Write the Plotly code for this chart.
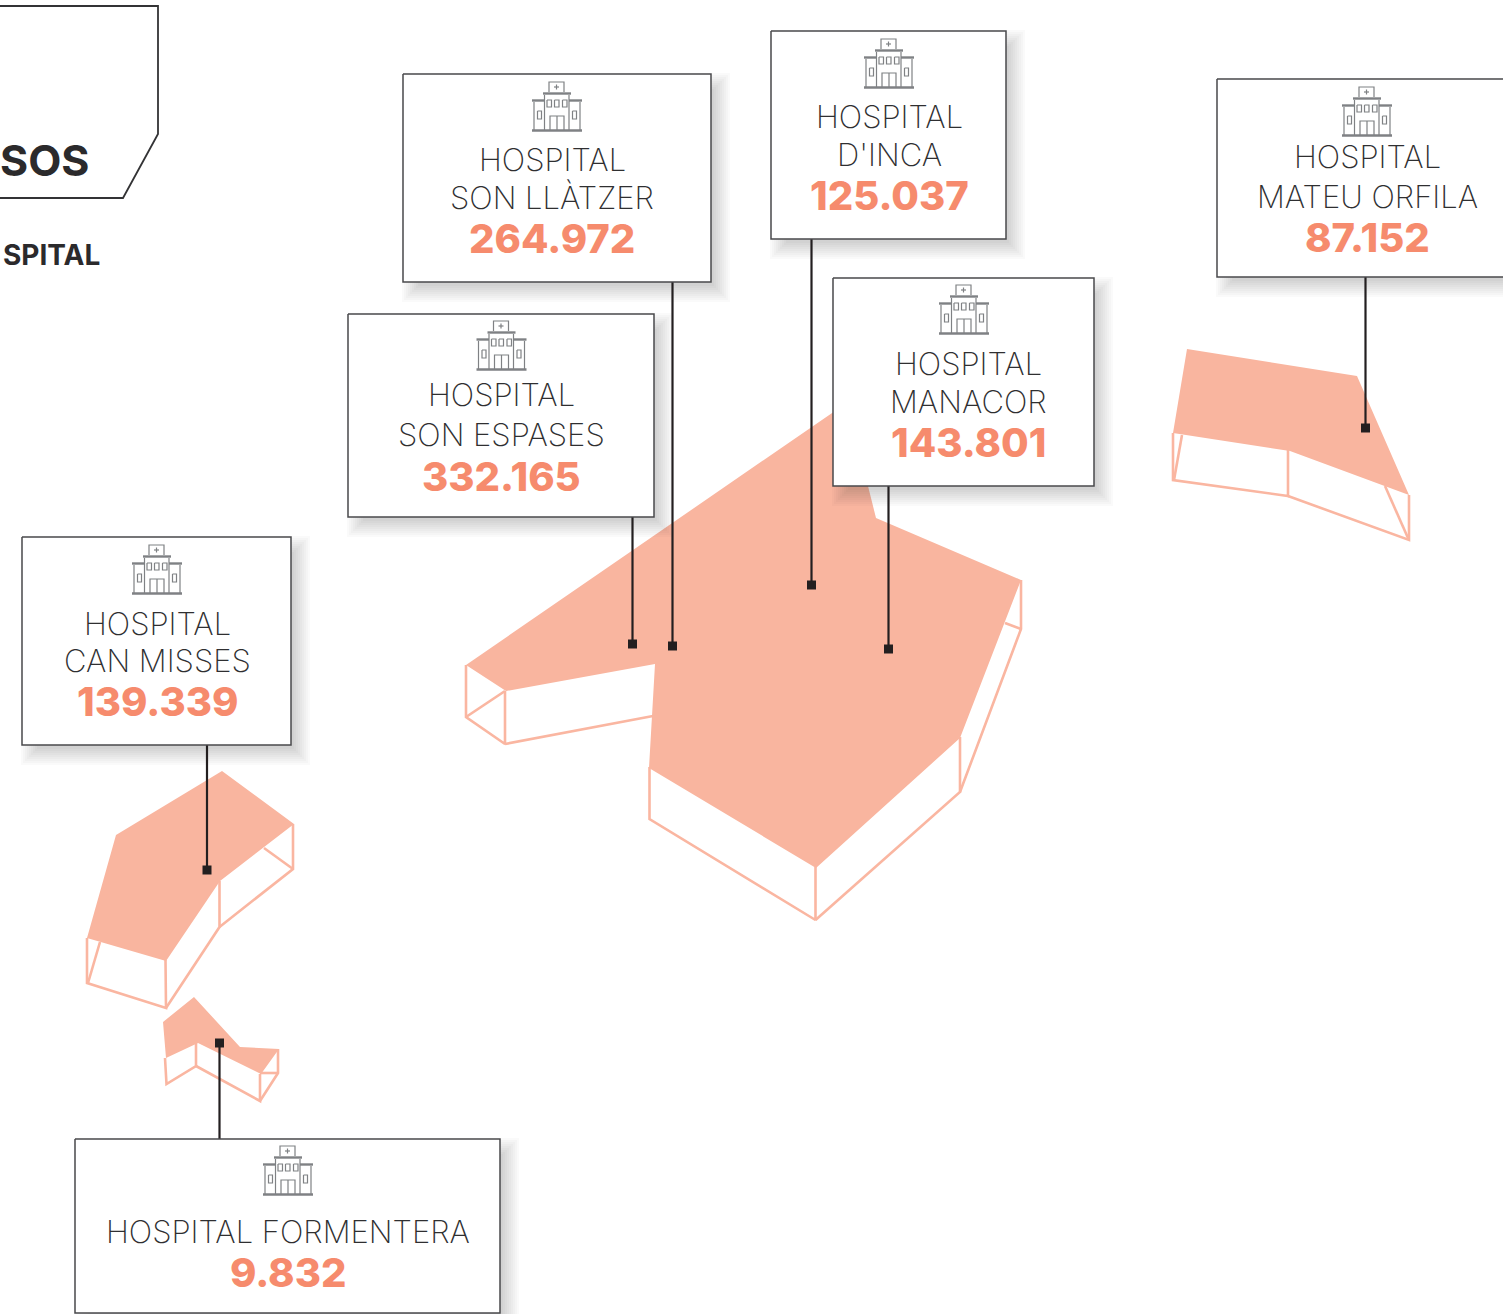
import plotly.graph_objects as go

W, H = 1503, 1314
CORAL_FILL = "#f9b59f"
CORAL_LINE = "#fab6a1"
CORAL_TEXT = "#f68b6d"
DARK = "#231f20"
TEXT = "#2f2f31"
ICON = "#7f8184"

# ---- data ----
line1 = ["HOSPITAL", "HOSPITAL", "HOSPITAL", "HOSPITAL", "HOSPITAL", "HOSPITAL", "HOSPITAL FORMENTERA"]
line2 = ["SON LLÀTZER", "D'INCA", "MATEU ORFILA", "MANACOR", "SON ESPASES", "CAN MISSES", ""]
values = [264972, 125037, 87152, 143801, 332165, 139339, 9832]

box_x0 = [403, 771, 1217, 833, 348, 22, 75]
box_x1 = [711, 1006, 1512, 1094, 654, 291, 500]
box_y0 = [74, 31, 79, 278, 314, 537, 1139]
box_y1 = [282, 239, 277, 486, 517, 745, 1313]
text_cx = [552, 889, 1367, 968, 501, 157, 288]
line1_y = [159, 116, 156, 363, 394, 623, 1231]
line2_y = [197, 154, 196, 401, 434, 660, None]
value_y = [238, 195, 237, 442, 476, 701, 1272]
icon_x = [532, 864, 1342, 939, 476.5, 132, 263]
icon_y = [82, 39, 87, 285, 321, 545, 1146]
conn_x = [672.5, 811.5, 1365.5, 888.5, 632.5, 207, 219.5]
conn_y0 = [282, 239, 277, 486, 517, 745, 1139]
conn_y1 = [646, 585, 428, 649, 644, 870, 1043]

# island top faces
mallorca_x = [466, 835, 868, 876, 1021, 960, 816, 649, 655, 506]
mallorca_y = [665, 411, 486, 518, 580, 738, 868, 768, 664, 691]
menorca_x = [1187, 1357, 1409, 1290, 1173]
menorca_y = [349, 376, 495, 451, 433]
ibiza_x = [222, 294, 220, 166, 87, 116]
ibiza_y = [771, 824, 881, 961, 938, 835]
formentera_x = [194, 240, 279, 261, 198, 166, 163]
formentera_y = [997, 1047, 1049, 1074, 1043, 1058, 1022]

# island side walls (open outlines)
walls = [
    ([466, 466, 505, 505, None, 466, 505, None, 505, 653], [665, 717, 744, 691, None, 717, 691, None, 744, 716]),
    ([649.5, 649.5, 815.5, 815.5, None, 815.5, 960, 960, None, 960, 1021, 1021, None, 1005, 1021],
     [767, 819, 920, 867, None, 920, 792, 737, None, 792, 629, 580, None, 623, 629]),
    ([1173, 1173, 1288, 1288, None, 1288, 1409, 1409, None, 1182, 1174, None, 1385, 1408],
     [433, 480, 496, 450, None, 496, 540, 495, None, 435, 480, None, 486, 538]),
    ([87, 87, 166, 165.5, None, 166, 219.5, 219.5, None, 219.5, 293, 293, None, 264, 293, None, 100, 88],
     [938, 983, 1008, 960, None, 1008, 927, 881, None, 927, 869, 824, None, 848, 869, None, 942, 983]),
    ([165, 166.5, 196, 196, None, 196, 260, 260, None, 260, 278, 278, None, 260, 278],
     [1058, 1084, 1066, 1043, None, 1066, 1101, 1074, None, 1101, 1073, 1049, None, 1073, 1073]),
]

# title panel
panel_x = [-10, 158, 158, 123, -10]
panel_y = [6, 6, 134, 198, 198]

# hospital icon drawn in a 50x50 box: thin strokes
icon_thin_x = [17, 17, 32, 32, None, 12.5, 12.5, None, 37, 37, None, 2, 2, None, 48, 48, None,
               18, 18, 32, 32, None, 25, 25, None, 22, 27, None, 24.5, 24.5, None,
               15, 19.5, 19.5, 15, 15, None, 22.5, 27, 27, 22.5, 22.5, None, 30.5, 35, 35, 30.5, 30.5, None,
               5.5, 9.5, 9.5, 5.5, 5.5, None, 40.5, 44.5, 44.5, 40.5, 40.5]
icon_thin_y = [10, 0, 0, 10, None, 13, 48, None, 13, 48, None, 20, 48, None, 20, 48, None,
               48, 34, 34, 48, None, 34, 48, None, 5, 5, None, 2.5, 7.5, None,
               18, 18, 25, 25, 18, None, 18, 18, 25, 25, 18, None, 18, 18, 25, 25, 18, None,
               29, 29, 37, 37, 29, None, 29, 29, 37, 37, 29]
icon_bar_x = [0, 50, None, 11, 39, None, 0, 12.5, None, 37, 50]
icon_bar_y = [48.5, 48.5, None, 11.5, 11.5, None, 18.5, 18.5, None, 18.5, 18.5]

fig = go.Figure()


def poly(xs, ys, fill=None, line=None, width=0):
    fig.add_trace(go.Scatter(
        x=xs, y=ys, mode="lines", fill="toself" if fill else "none",
        fillcolor=fill, line=dict(color=line or "rgba(0,0,0,0)", width=width, shape="linear"),
        hoverinfo="skip", showlegend=False))


# islands
for wx, wy in walls:
    poly(wx, wy, line=CORAL_LINE, width=2.6)
for px, py in [(mallorca_x, mallorca_y), (menorca_x, menorca_y), (ibiza_x, ibiza_y), (formentera_x, formentera_y)]:
    poly(px + px[:1], py + py[:1], fill=CORAL_FILL)

# connectors and end squares
for cx, a, b in zip(conn_x, conn_y0, conn_y1):
    poly([cx, cx], [a, b], line=DARK, width=2.2)
fig.add_trace(go.Scatter(x=conn_x, y=conn_y1, mode="markers",
                         marker=dict(symbol="square", size=9, color=DARK, line=dict(width=0)),
                         hoverinfo="skip", showlegend=False))

# soft drop shadows + boxes
for x0, x1, y0, y1 in zip(box_x0, box_x1, box_y0, box_y1):
    for s in [13, 11, 9, 7, 5, 3, 1, -1, -3]:
        sx0, sx1, sy0, sy1 = x0 + 12 - s, x1 + 6 + s, y0 + 12 - s, y1 + 7 + s
        poly([sx0, sx1, sx1, sx0, sx0], [sy0, sy0, sy1, sy1, sy0], fill="rgba(60,60,60,0.024)")
    poly([x0, x1, x1, x0, x0], [y0, y0, y1, y1, y0], fill="#ffffff", line="#4a4a4c", width=1.5)

# title panel
poly(panel_x + panel_x[:1], panel_y + panel_y[:1], fill="#ffffff", line="#333335", width=1.8)

# icons
for ix, iy in zip(icon_x, icon_y):
    fig.add_trace(go.Scatter(
        x=[None if v is None else v + ix for v in icon_thin_x],
        y=[None if v is None else v + iy for v in icon_thin_y],
        mode="lines", line=dict(color=ICON, width=1.2), hoverinfo="skip", showlegend=False))
    fig.add_trace(go.Scatter(
        x=[None if v is None else v + ix for v in icon_bar_x],
        y=[None if v is None else v + iy for v in icon_bar_y],
        mode="lines", line=dict(color=ICON, width=2.4), hoverinfo="skip", showlegend=False))


def label(x, y, text, size, color, weight, anchor="center"):
    fig.add_annotation(x=x, y=y, xref="x", yref="y", text=text, showarrow=False,
                       xanchor=anchor, yanchor="middle", borderpad=0,
                       font=dict(family="Inter, Lato, sans-serif", size=size, color=color, weight=weight))


for i in range(len(values)):
    label(text_cx[i], line1_y[i], line1[i], 31, TEXT, 200)
    if line2[i]:
        label(text_cx[i], line2_y[i], line2[i], 31, TEXT, 200)
    label(text_cx[i], value_y[i], f"{values[i]:,}".replace(",", "."), 40, CORAL_TEXT, 800)

label(90, 160, "SOS", 43, "#2b2a2c", 700, anchor="right")
label(101, 254.5, "SPITAL", 28, "#2b2a2c", 700, anchor="right")

fig.update_layout(
    width=W, height=H, margin=dict(l=0, r=0, t=0, b=0), autosize=False,
    paper_bgcolor="white", plot_bgcolor="white", showlegend=False,
    xaxis=dict(range=[0, W], visible=False, fixedrange=True),
    yaxis=dict(range=[H, 0], visible=False, fixedrange=True),
)
fig.write_html("out.html", config={"displayModeBar": False},
               post_script="document.body.style.margin='0';document.body.style.overflow='hidden';")
